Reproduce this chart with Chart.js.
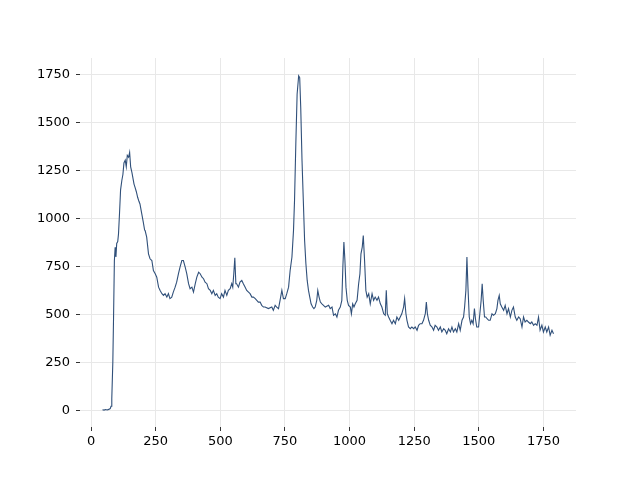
<!DOCTYPE html>
<html>
<head>
  <meta charset="UTF-8">
  <title>Spectrum</title>
  <style>
    body { margin: 0; background: #fff; }
    canvas { display: block; }
  </style>
  <script src="https://cdn.jsdelivr.net/npm/chart.js"></script>
</head>
<body>
  <canvas id="grafico" width="640" height="480"></canvas>
  <script>
    // x positions (shift) and intensities
    const posX = [
      44, 50, 56, 62, 68, 74, 77, 80, 84, 87, 90, 93, 96, 99, 103, 106, 110, 114, 119, 123,
      127, 132, 136, 140, 145, 149, 153, 158, 162, 166, 170, 175, 180, 185, 189, 196, 202, 207,
      209, 215, 222, 228, 235, 241, 248, 254, 261, 267, 274, 280, 286, 293, 299, 305, 312, 318,
      325, 331, 338, 344, 351, 357, 364, 370, 377, 383, 390, 396, 403, 409, 416, 422, 429, 435, 441,
      448, 454, 461, 467, 473, 480, 486, 492, 499, 505, 512, 518, 525, 531, 538, 544, 548, 552,
      556, 560, 563, 570, 576, 583, 589, 596, 602, 609, 615, 622, 628, 635, 641, 647, 654, 660, 667, 673,
      686, 699, 705, 712, 718, 725, 731, 738, 744, 751, 757, 764, 770, 777, 783, 787, 792, 797,
      803, 807, 811, 816, 821, 826, 831, 836, 841, 846, 851, 857, 862, 867, 873, 877, 882, 887, 893, 899, 906,
      919, 925, 932, 938, 945, 951, 957, 964, 970, 974, 978, 982, 986, 991, 996, 1003, 1007, 1012,
      1017, 1022, 1029, 1035, 1040, 1044, 1049, 1053, 1058, 1063, 1068, 1074, 1080, 1087, 1093, 1099,
      1106, 1112, 1119, 1125, 1132, 1138,
      1142, 1146, 1151, 1157, 1164, 1170, 1177, 1183, 1190, 1196, 1202, 1209, 1213, 1218, 1222, 1228,
      1235, 1241, 1248, 1254, 1261, 1267, 1273, 1280, 1286, 1293, 1297, 1301, 1306, 1312, 1319, 1325,
      1331, 1338, 1344, 1351, 1357, 1364, 1370,
      1376, 1383, 1390, 1396, 1402, 1409, 1415, 1422, 1428, 1435, 1441, 1445, 1450, 1454, 1458, 1463,
      1468, 1473, 1478, 1483, 1487, 1492, 1499, 1504, 1509, 1513, 1517, 1522, 1527, 1532, 1538, 1544,
      1551, 1557, 1564, 1570, 1574, 1579, 1583, 1589, 1596, 1602,
      1609, 1615, 1622, 1628, 1634, 1641, 1647, 1654, 1660, 1667, 1673, 1679, 1686, 1692, 1699, 1705,
      1712, 1718, 1725, 1731, 1737, 1744, 1750, 1757, 1763, 1770, 1776, 1783, 1789
    ];
    const intensidad = [
      2, 0, 3, 1, 4, 8, 20, 60, 250, 500, 780, 850, 800, 870, 880, 920, 1030, 1150, 1200, 1230,
      1290, 1305, 1270, 1330, 1320, 1345, 1270, 1240, 1210, 1180, 1163, 1140, 1111, 1090, 1076, 1024, 980, 940,
      937, 903, 816, 790, 781, 729, 712, 694, 642, 625, 608, 599, 608, 590, 608, 582, 590, 616,
      642, 668, 712, 747, 781, 781, 747, 712, 660, 634, 642, 616, 660, 694, 720, 712, 694, 686, 668,
      660, 634, 625, 608, 625, 599, 608, 590, 582, 608, 590, 625, 599, 625, 634, 660, 642, 712,
      795, 660, 660, 642, 668, 677, 660, 642, 625, 616, 608, 590, 590, 582, 573, 564, 564, 547, 538, 538,
      530, 538, 521, 547, 538, 530, 573, 625, 582, 582, 608, 642, 729, 799, 937, 1094, 1389, 1649,
      1745, 1736, 1580, 1302, 1094, 885, 764, 677, 625, 590, 555, 538, 530, 538, 573, 625, 590, 564, 555, 547, 538,
      547, 530, 538, 495, 503, 486, 521, 538, 573, 747, 877, 781, 642, 573, 547, 538, 503, 555,
      538, 555, 573, 660, 712, 816, 851, 911, 781, 625, 590, 608, 555, 608, 573, 590,
      573, 590, 555, 538, 503, 495,
      625, 503, 486, 469, 451, 469, 451, 486, 469, 486, 503, 538, 582, 503, 469, 434,
      425, 434, 425, 434, 417, 443, 451, 451, 469, 503, 564, 503, 469, 443, 434, 417,
      443, 434, 417, 434, 408, 425, 417,
      399, 425, 408, 434, 408, 425, 408, 451, 417, 469, 486, 538, 625, 799, 642, 486,
      451, 469, 451, 530, 477, 434, 434, 503, 573, 660, 573, 486, 486, 477, 469, 469,
      503, 495, 503, 530, 573, 599, 555, 538, 521, 547,
      503, 530, 486, 521, 538, 486, 469, 486, 477, 434, 486, 460, 469, 460, 451, 460,
      443, 451, 443, 486, 417, 443, 408, 434, 408, 434, 391, 417, 399
    ];
    const ticksX = [0, 250, 500, 750, 1000, 1250, 1500, 1750];
    const ticksY = [0, 250, 500, 750, 1000, 1250, 1500, 1750];

    const puntos = posX.map((x, i) => ({ x: x, y: intensidad[i] }));

    const fuente = { family: 'DejaVu Sans', size: 13 };

    new Chart(document.getElementById('grafico'), {
      type: 'line',
      data: {
        datasets: [{
          data: puntos,
          borderColor: '#30507a',
          borderWidth: 1.1,
          pointRadius: 0,
          tension: 0,
          fill: false
        }]
      },
      options: {
        responsive: false,
        animation: false,
        layout: { padding: { left: 0, right: 64, top: 58, bottom: 0 } },
        plugins: { legend: { display: false }, tooltip: { enabled: false } },
        scales: {
          x: {
            type: 'linear',
            min: -43,
            max: 1876,
            afterBuildTicks: s => { s.ticks = ticksX.map(v => ({ value: v })); },
            afterFit: s => { s.height = 53; },
            border: { display: false },
            grid: { color: '#e8e8e8', lineWidth: 1, tickColor: '#333', tickLength: 4 },
            ticks: { color: '#000', font: fuente, padding: 3, maxRotation: 0, callback: v => String(v) }
          },
          y: {
            min: -88,
            max: 1838,
            afterBuildTicks: s => { s.ticks = ticksY.map(v => ({ value: v })); },
            afterFit: s => { s.width = 80; },
            border: { display: false },
            grid: { color: '#e8e8e8', lineWidth: 1, tickColor: '#333', tickLength: 4 },
            ticks: { color: '#000', font: fuente, padding: 6, callback: v => String(v) }
          }
        }
      }
    });
  </script>
</body>
</html>
